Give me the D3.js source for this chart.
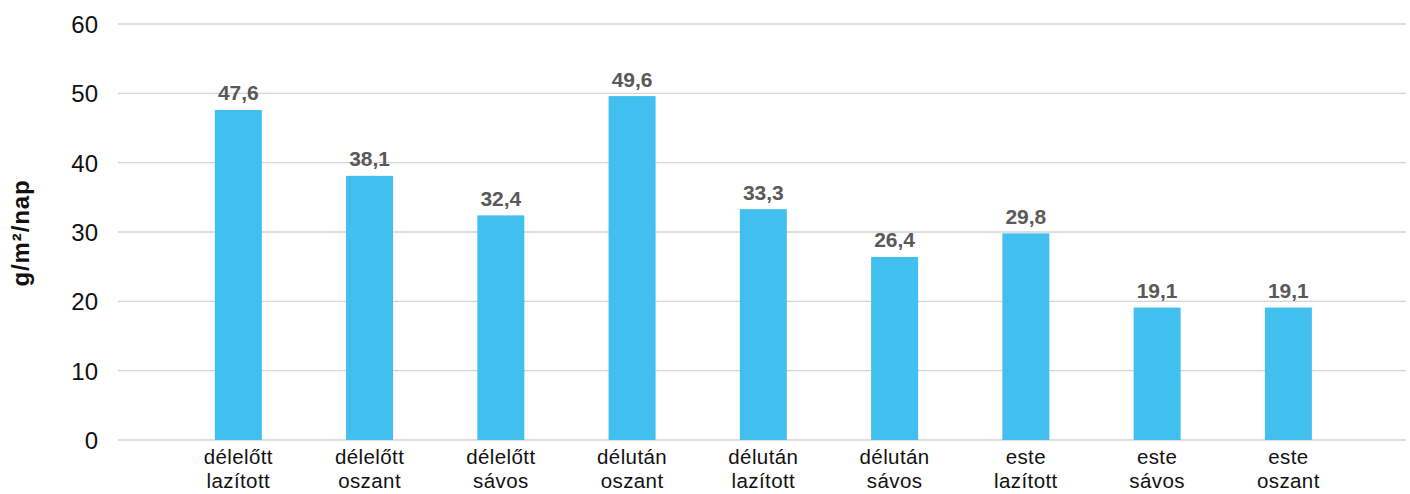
<!DOCTYPE html>
<html>
<head>
<meta charset="utf-8">
<script src="https://cdn.jsdelivr.net/npm/d3@7"></script>
<style>
  html, body { margin: 0; padding: 0; background: #fff; }
  svg { display: block; }
</style>
</head>
<body>
<svg id="chart" width="1410" height="494"></svg>
<script>
const categoriesLine1 = ["délelőtt", "délelőtt", "délelőtt", "délután", "délután", "délután", "este", "este", "este"];
const categoriesLine2 = ["lazított", "oszant", "sávos", "oszant", "lazított", "sávos", "lazított", "sávos", "oszant"];
const values = [47.6, 38.1, 32.4, 49.6, 33.3, 26.4, 29.8, 19.1, 19.1];
const yTicks = [0, 10, 20, 30, 40, 50, 60];
const yTitle = "g/m²/nap";

const svg = d3.select("#chart");
const gridLeft = 118, gridRight = 1406;
const bandLeft = 172.7, bandRight = 1354;
const plotTop = 24, plotBottom = 440;
const font = "'Liberation Sans', Arial, Helvetica, sans-serif";

const ids = values.map((d, i) => i);
const x = d3.scaleBand().domain(ids).range([bandLeft, bandRight]).paddingInner(0.642).paddingOuter(0.321);
const y = d3.scaleLinear().domain([0, 60]).range([plotBottom, plotTop]);

// gridlines
svg.append("g").selectAll("line").data(yTicks).join("line")
  .attr("x1", gridLeft).attr("x2", gridRight)
  .attr("y1", d => y(d)).attr("y2", d => y(d))
  .attr("stroke", "#d3d3d3").attr("stroke-width", 1.3);

// y axis labels
const yAxis = d3.axisLeft(y).tickValues(yTicks).tickSize(0).tickPadding(0).tickFormat(d3.format("d"));
const yg = svg.append("g").attr("transform", `translate(98,0)`).call(yAxis);
yg.select(".domain").remove();
yg.selectAll("text").attr("font-family", font)
  .attr("font-size", 24).attr("fill", "#111").attr("dy", "0.36em");

// bars
svg.append("g").selectAll("rect").data(values).join("rect")
  .attr("x", (d, i) => x(i)).attr("width", x.bandwidth())
  .attr("y", d => y(d)).attr("height", d => y(0) - y(d))
  .attr("fill", "#41BFEE");

// value labels
const fmt = d => d3.format(".1f")(d).replace(".", ",");
svg.append("g").selectAll("text").data(values).join("text")
  .attr("x", (d, i) => x(i) + x.bandwidth() / 2)
  .attr("y", d => y(d) - 9.5)
  .attr("text-anchor", "middle")
  .attr("font-family", font)
  .attr("font-weight", "bold").attr("font-size", 21)
  .attr("fill", "#595959")
  .text(fmt);

// x axis category labels
const xg = svg.append("g");
ids.forEach(i => {
  const cx = x(i) + x.bandwidth() / 2;
  const t = xg.append("text")
    .attr("text-anchor", "middle")
    .attr("font-family", font)
    .attr("font-size", 20.5)
    .attr("letter-spacing", 0.4)
    .attr("fill", "#111");
  t.append("tspan").attr("x", cx).attr("y", 464).text(categoriesLine1[i]);
  t.append("tspan").attr("x", cx).attr("y", 488).text(categoriesLine2[i]);
});

// y title
svg.append("text")
  .attr("transform", "translate(29,233) rotate(-90)")
  .attr("text-anchor", "middle")
  .attr("font-family", font)
  .attr("font-weight", "bold").attr("font-size", 24)
  .attr("letter-spacing", 0.9)
  .attr("fill", "#111")
  .text(yTitle);
</script>
</body>
</html>
